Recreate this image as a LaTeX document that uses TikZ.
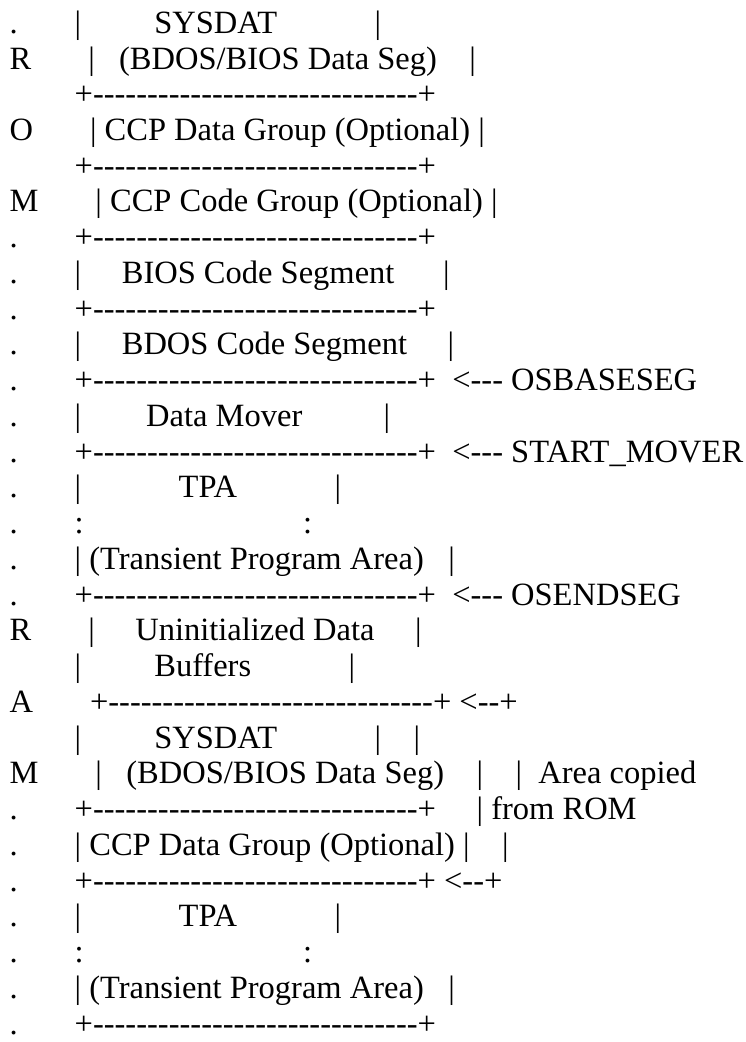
\documentclass[tikz,border=0pt]{standalone}
\usepackage{fontspec}
\newfontfamily\rowfont{Liberation Serif}
\newcommand{\sk}[1]{\hskip#1\fontdimen2\font\relax}
\newcommand{\edge}{+----------\kern0pt----------\kern0pt----------+}
\tikzset{row/.style={anchor=base west, inner sep=0pt, font=\rowfont\fontsize{32.5}{36}\selectfont}}
\begin{document}
\begin{tikzpicture}[x=1pt, y=1pt]
\useasboundingbox (0,0) rectangle (745,-1042);
\node[row] (romsysdat) at (9.5,-33.2) {.\sk7|\sk9SYSDAT\sk{12}|};
\node[row] (rombiosdata) at (9.5,-69.0) {R\sk7|\sk3(BDOS/BIOS Data Seg)\sk4|};
\node[row] (romsep1) at (9.5,-104.7) {\sk8\edge};
\node[row] (romccpdata) at (9.5,-140.5) {O\sk7|\sk1CCP Data Group (Optional)\sk1|};
\node[row] (romsep2) at (9.5,-176.2) {\sk8\edge};
\node[row] (romccpcode) at (9.5,-211.9) {M\sk7|\sk1CCP Code Group (Optional)\sk1|};
\node[row] (romsep3) at (9.5,-247.7) {.\sk7\edge};
\node[row] (bioscode) at (9.5,-283.4) {.\sk7|\sk5BIOS Code Segment\sk6|};
\node[row] (romsep4) at (9.5,-319.2) {.\sk7\edge};
\node[row] (bdoscode) at (9.5,-354.9) {.\sk7|\sk5BDOS Code Segment\sk5|};
\node[row] (osbaseseg) at (9.5,-390.7) {.\sk7\edge\sk2<-\kern0pt-\kern0pt-\sk1OSBASESEG};
\node[row] (datamover) at (9.5,-426.4) {.\sk7|\sk8Data Mover\sk{10}|};
\node[row] (startmover) at (9.5,-462.2) {.\sk7\edge\sk2<-\kern0pt-\kern0pt-\sk1START\_MOVER};
\node[row] (romtpa) at (9.5,-497.9) {.\sk7|\sk{12}TPA\sk{12}|};
\node[row] (romtpagap) at (9.5,-533.7) {.\sk7:\sk{27}:};
\node[row] (romtpaarea) at (9.5,-569.4) {.\sk7|\sk1(Transient Program Area)\sk3|};
\node[row] (osendseg) at (9.5,-605.2) {.\sk7\edge\sk2<-\kern0pt-\kern0pt-\sk1OSENDSEG};
\node[row] (uninitdata) at (9.5,-640.9) {R\sk7|\sk5Uninitialized Data\sk5|};
\node[row] (buffers) at (9.5,-676.7) {\sk8|\sk9Buffers\sk{12}|};
\node[row] (copytop) at (9.5,-712.4) {A\sk7\edge\sk1<-\kern0pt-+};
\node[row] (ramsysdat) at (9.5,-748.2) {\sk8|\sk9SYSDAT\sk{12}|\sk4|};
\node[row] (rambiosdata) at (9.5,-783.9) {M\sk7|\sk3(BDOS/BIOS Data Seg)\sk4|\sk4|\sk2Area copied};
\node[row] (fromrom) at (9.5,-819.7) {.\sk7\edge\sk5|\sk1from ROM};
\node[row] (ramccpdata) at (9.5,-855.4) {.\sk7|\sk1CCP Data Group (Optional)\sk1|\sk4|};
\node[row] (copybottom) at (9.5,-891.2) {.\sk7\edge\sk1<-\kern0pt-+};
\node[row] (ramtpa) at (9.5,-926.9) {.\sk7|\sk{12}TPA\sk{12}|};
\node[row] (ramtpagap) at (9.5,-962.7) {.\sk7:\sk{27}:};
\node[row] (ramtpaarea) at (9.5,-998.4) {.\sk7|\sk1(Transient Program Area)\sk3|};
\node[row] (ramend) at (9.5,-1034.2) {.\sk7\edge};
\end{tikzpicture}
\end{document}
